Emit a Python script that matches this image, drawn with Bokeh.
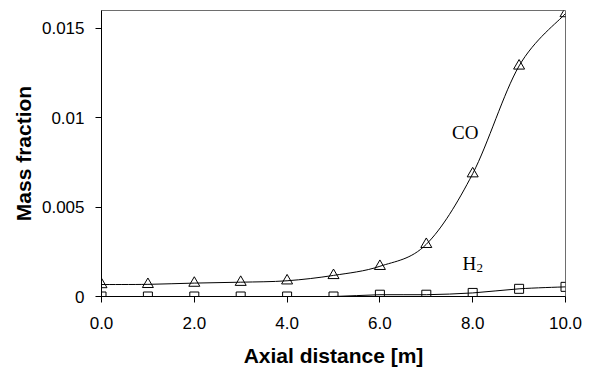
from bokeh.plotting import figure
from bokeh.models import Range1d, FixedTicker, Label, ColumnDataSource
from bokeh.embed import file_html
from bokeh.resources import INLINE

# Data
distance = [0, 1, 2, 3, 4, 5, 6, 7, 8, 9, 10]
co = [0.00067, 0.00068, 0.00075, 0.0008, 0.00088, 0.00118, 0.00169, 0.00292, 0.00687, 0.0129, 0.01583]
h2 = [0.0, 0.0, 0.0, 0.0, 0.0, 0.0, 0.0001, 0.0001, 0.0002, 0.00043, 0.00054]
x_ticks = [0, 2, 4, 6, 8, 10]
x_tick_labels = ["0.0", "2.0", "4.0", "6.0", "8.0", "10.0"]
y_ticks = [0, 0.005, 0.01, 0.015]
y_tick_labels = ["0", "0.005", "0.01", "0.015"]
series_labels = ["CO", "H", "2"]
label_x = [7.84, 7.93, 7.93]
label_y = [0.00919, 0.00185, 0.00185]

p = figure(width=589, height=369, x_range=Range1d(0, 10), y_range=Range1d(0, 0.016),
           output_backend="svg", toolbar_location=None,
           min_border_left=101, min_border_right=24, min_border_top=10, min_border_bottom=73)
p.background_fill_color = "white"
p.border_fill_color = "white"
p.outline_line_color = "#6e6e6e"
p.outline_line_width = 1
p.xgrid.visible = False
p.ygrid.visible = False


def smooth(xs, ys):
    n = len(xs)
    d = dict(x0=[], y0=[], x1=[], y1=[], cx0=[], cy0=[], cx1=[], cy1=[])
    for i in range(n - 1):
        im = max(i - 1, 0)
        ip = min(i + 2, n - 1)
        d["x0"].append(xs[i]); d["y0"].append(ys[i])
        d["x1"].append(xs[i + 1]); d["y1"].append(ys[i + 1])
        d["cx0"].append(xs[i] + (xs[i + 1] - xs[im]) / 6)
        d["cy0"].append(ys[i] + (ys[i + 1] - ys[im]) / 6)
        d["cx1"].append(xs[i + 1] - (xs[ip] - xs[i]) / 6)
        d["cy1"].append(ys[i + 1] - (ys[ip] - ys[i]) / 6)
    return ColumnDataSource(d)


for ys, marker, size in [(co, "triangle", 11), (h2, "square", 9)]:
    p.bezier(x0="x0", y0="y0", x1="x1", y1="y1", cx0="cx0", cy0="cy0", cx1="cx1", cy1="cy1",
             source=smooth(distance, ys), line_color="black", line_width=1)
    p.scatter(distance, ys, marker=marker, size=size, fill_color=None,
              line_color="black", line_width=1)

# Series labels
p.add_layout(Label(x=label_x[0], y=label_y[0], text=series_labels[0], text_align="center",
                   text_baseline="middle", text_font="Liberation Serif",
                   text_font_size="19px", text_color="black"))
p.add_layout(Label(x=label_x[1], y=label_y[1], text=series_labels[1], text_align="center",
                   text_baseline="middle", text_font="Liberation Serif",
                   text_font_size="19px", text_color="black"))
p.add_layout(Label(x=label_x[2], y=label_y[2], text=series_labels[2], text_align="left",
                   text_baseline="middle", x_offset=7, y_offset=-5, text_font="Liberation Serif",
                   text_font_size="13px", text_color="black"))

# Axes
p.xaxis.ticker = FixedTicker(ticks=x_ticks)
p.xaxis.major_label_overrides = {t: l for t, l in zip(x_ticks, x_tick_labels)}
p.yaxis.ticker = FixedTicker(ticks=y_ticks)
p.yaxis.major_label_overrides = {t: l for t, l in zip(y_ticks, y_tick_labels)}

for ax in (p.xaxis[0], p.yaxis[0]):
    ax.axis_line_color = "black"
    ax.major_tick_line_color = "black"
    ax.major_tick_out = 6
    ax.major_tick_in = 0
    ax.minor_tick_line_color = None
    ax.major_label_text_font = "Liberation Sans"
    ax.major_label_text_font_size = "17px"
    ax.major_label_text_color = "black"
    ax.axis_label_text_font = "Liberation Sans"
    ax.axis_label_text_font_style = "bold"
    ax.axis_label_text_font_size = "21px"
    ax.axis_label_text_color = "black"

p.xaxis.axis_label = "Axial distance [m]"
p.yaxis.axis_label = "Mass fraction"
p.xaxis.major_label_standoff = 14
p.yaxis.major_label_standoff = 11
p.xaxis.axis_label_standoff = 12
p.yaxis.axis_label_standoff = 4

open("out.html", "w").write(file_html(p, INLINE))
